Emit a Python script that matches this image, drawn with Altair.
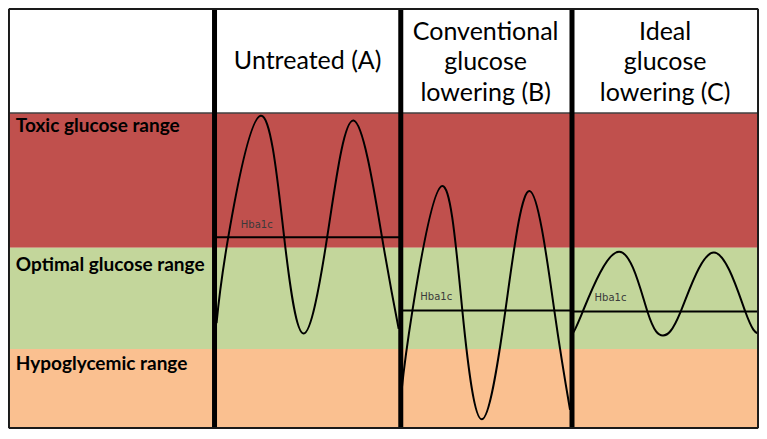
import altair as alt
import pandas as pd

# Diagram coordinates: x = position across the figure (0-100),
# y = relative glucose level (0 = bottom of hypoglycemic range, 100 = top of toxic range)

band_names = ["Toxic glucose range", "Optimal glucose range", "Hypoglycemic range"]
band_low = [57.2, 25.1, 0.0]
band_high = [100.0, 57.2, 25.1]
band_colors = ["#C0504D", "#C3D69B", "#FAC090"]
band_label_level = [93.9, 49.8, 18.3]

panel_names = ["Untreated (A)", "Conventional glucose lowering (B)", "Ideal glucose lowering (C)"]
panel_start = [27.5, 52.3, 75.1]
panel_end = [52.3, 75.1, 99.9]
hba1c_level = [60.6, 37.3, 37.0]
hba1c_label_x = [31.0, 54.9, 78.1]
hba1c_label_level = [63.6, 40.8, 40.4]

header_text = ["Untreated (A)", "Conventional", "glucose", "lowering (B)", "Ideal", "glucose", "lowering (C)"]
header_x = [39.9, 63.6, 63.6, 63.6, 87.5, 87.5, 87.5]
header_level = [114.1, 123.2, 113.5, 103.7, 123.2, 113.5, 103.7]

wave_a_time = [27.77, 29.33, 33.64, 36.77, 39.37, 42.50, 46.02, 49.80, 52.02]
wave_a_glucose = [33.3, 60.6, 99.1, 60.6, 30.0, 60.6, 97.6, 60.6, 31.5]
wave_b_time = [52.41, 53.85, 57.76, 60.50, 63.10, 66.23, 69.49, 72.75, 74.84]
wave_b_glucose = [11.9, 37.3, 76.8, 37.3, 2.8, 37.3, 75.2, 37.3, 5.8]
wave_c_time = [75.23, 76.53, 81.36, 85.14, 87.22, 89.57, 94.00, 98.17, 99.87]
wave_c_glucose = [30.3, 37.0, 56.0, 37.0, 29.4, 37.0, 55.7, 37.0, 30.0]

X_DOMAIN = [0, 100]
Y_DOMAIN = [-0.92, 133.33]
xs = alt.Scale(domain=X_DOMAIN, nice=False, zero=False)
ys = alt.Scale(domain=Y_DOMAIN, nice=False, zero=False)

bands = pd.DataFrame({"name": band_names, "lo": band_low, "hi": band_high,
                      "color": band_colors, "x0": 0.0, "x1": 99.9,
                      "label_y": band_label_level, "label_x": 1.04})
panels = pd.DataFrame({"name": panel_names, "start": panel_start, "end": panel_end,
                       "hba1c": hba1c_level, "lx": hba1c_label_x, "ly": hba1c_label_level,
                       "lab": ["Hba1c"] * 3})
headers = pd.DataFrame({"text": header_text, "x": header_x, "y": header_level})
waves = pd.concat([
    pd.DataFrame({"t": wave_a_time, "g": wave_a_glucose, "panel": "A"}),
    pd.DataFrame({"t": wave_b_time, "g": wave_b_glucose, "panel": "B"}),
    pd.DataFrame({"t": wave_c_time, "g": wave_c_glucose, "panel": "C"}),
])
dividers = pd.DataFrame({"x": [panel_start[0], panel_start[1], panel_start[2]],
                         "y0": 0.0, "y1": Y_DOMAIN[1]})
frame_h = pd.DataFrame({"y": [0.0, 133.0], "x0": 0.1, "x1": 99.9})
frame_v = pd.DataFrame({"x": [0.13, 99.87], "y0": 0.0, "y1": 133.0})
header_sep = pd.DataFrame({"y": [100.0], "x0": 0.1, "x1": 99.9})

X = lambda f: alt.X(f, type="quantitative", scale=xs, axis=None)
Y = lambda f: alt.Y(f, type="quantitative", scale=ys, axis=None)

band_rect = alt.Chart(bands).mark_rect().encode(
    x=X("x0"), x2="x1", y=Y("lo"), y2="hi",
    color=alt.Color("color:N", scale=None))

band_text = alt.Chart(bands).mark_text(
    align="left", baseline="alphabetic", font="Lato", fontWeight="bold",
    fontSize=19, color="black").encode(x=X("label_x"), y=Y("label_y"), text="name:N")

sep = alt.Chart(header_sep).mark_rule(color="#404040", strokeWidth=1.5).encode(
    x=X("x0"), x2="x1", y=Y("y"))

hba1c_rule = alt.Chart(panels).mark_rule(color="black", strokeWidth=2).encode(
    x=X("start"), x2="end", y=Y("hba1c"))

hba1c_text = alt.Chart(panels).mark_text(
    align="left", baseline="alphabetic", font="DejaVu Sans", fontSize=10,
    color="#3a3a3a").encode(x=X("lx"), y=Y("ly"), text="lab:N")

wave_line = alt.Chart(waves).mark_line(
    interpolate="natural", color="black", strokeWidth=2).encode(
    x=X("t"), y=Y("g"), detail="panel:N")

div_rule = alt.Chart(dividers).mark_rule(color="black", strokeWidth=5).encode(
    x=X("x"), y=Y("y0"), y2="y1")

frame_h_rule = alt.Chart(frame_h).mark_rule(color="#1a1a1a", strokeWidth=2).encode(
    x=X("x0"), x2="x1", y=Y("y"))
frame_v_rule = alt.Chart(frame_v).mark_rule(color="#1a1a1a", strokeWidth=2).encode(
    x=X("x"), y=Y("y0"), y2="y1")

header_txt = alt.Chart(headers).mark_text(
    align="center", baseline="alphabetic", font="Lato", fontSize=25,
    color="black").encode(x=X("x"), y=Y("y"), text="text:N")

chart = alt.layer(
    band_rect, sep, band_text, hba1c_rule, hba1c_text, wave_line,
    div_rule, frame_h_rule, frame_v_rule, header_txt
).properties(
    width=751, height=423, autosize=alt.AutoSizeParams(type="none"), padding=0,
    background="white"
).configure_view(stroke=None)

chart.save("out.html", embed_options={"renderer": "svg", "actions": False})
